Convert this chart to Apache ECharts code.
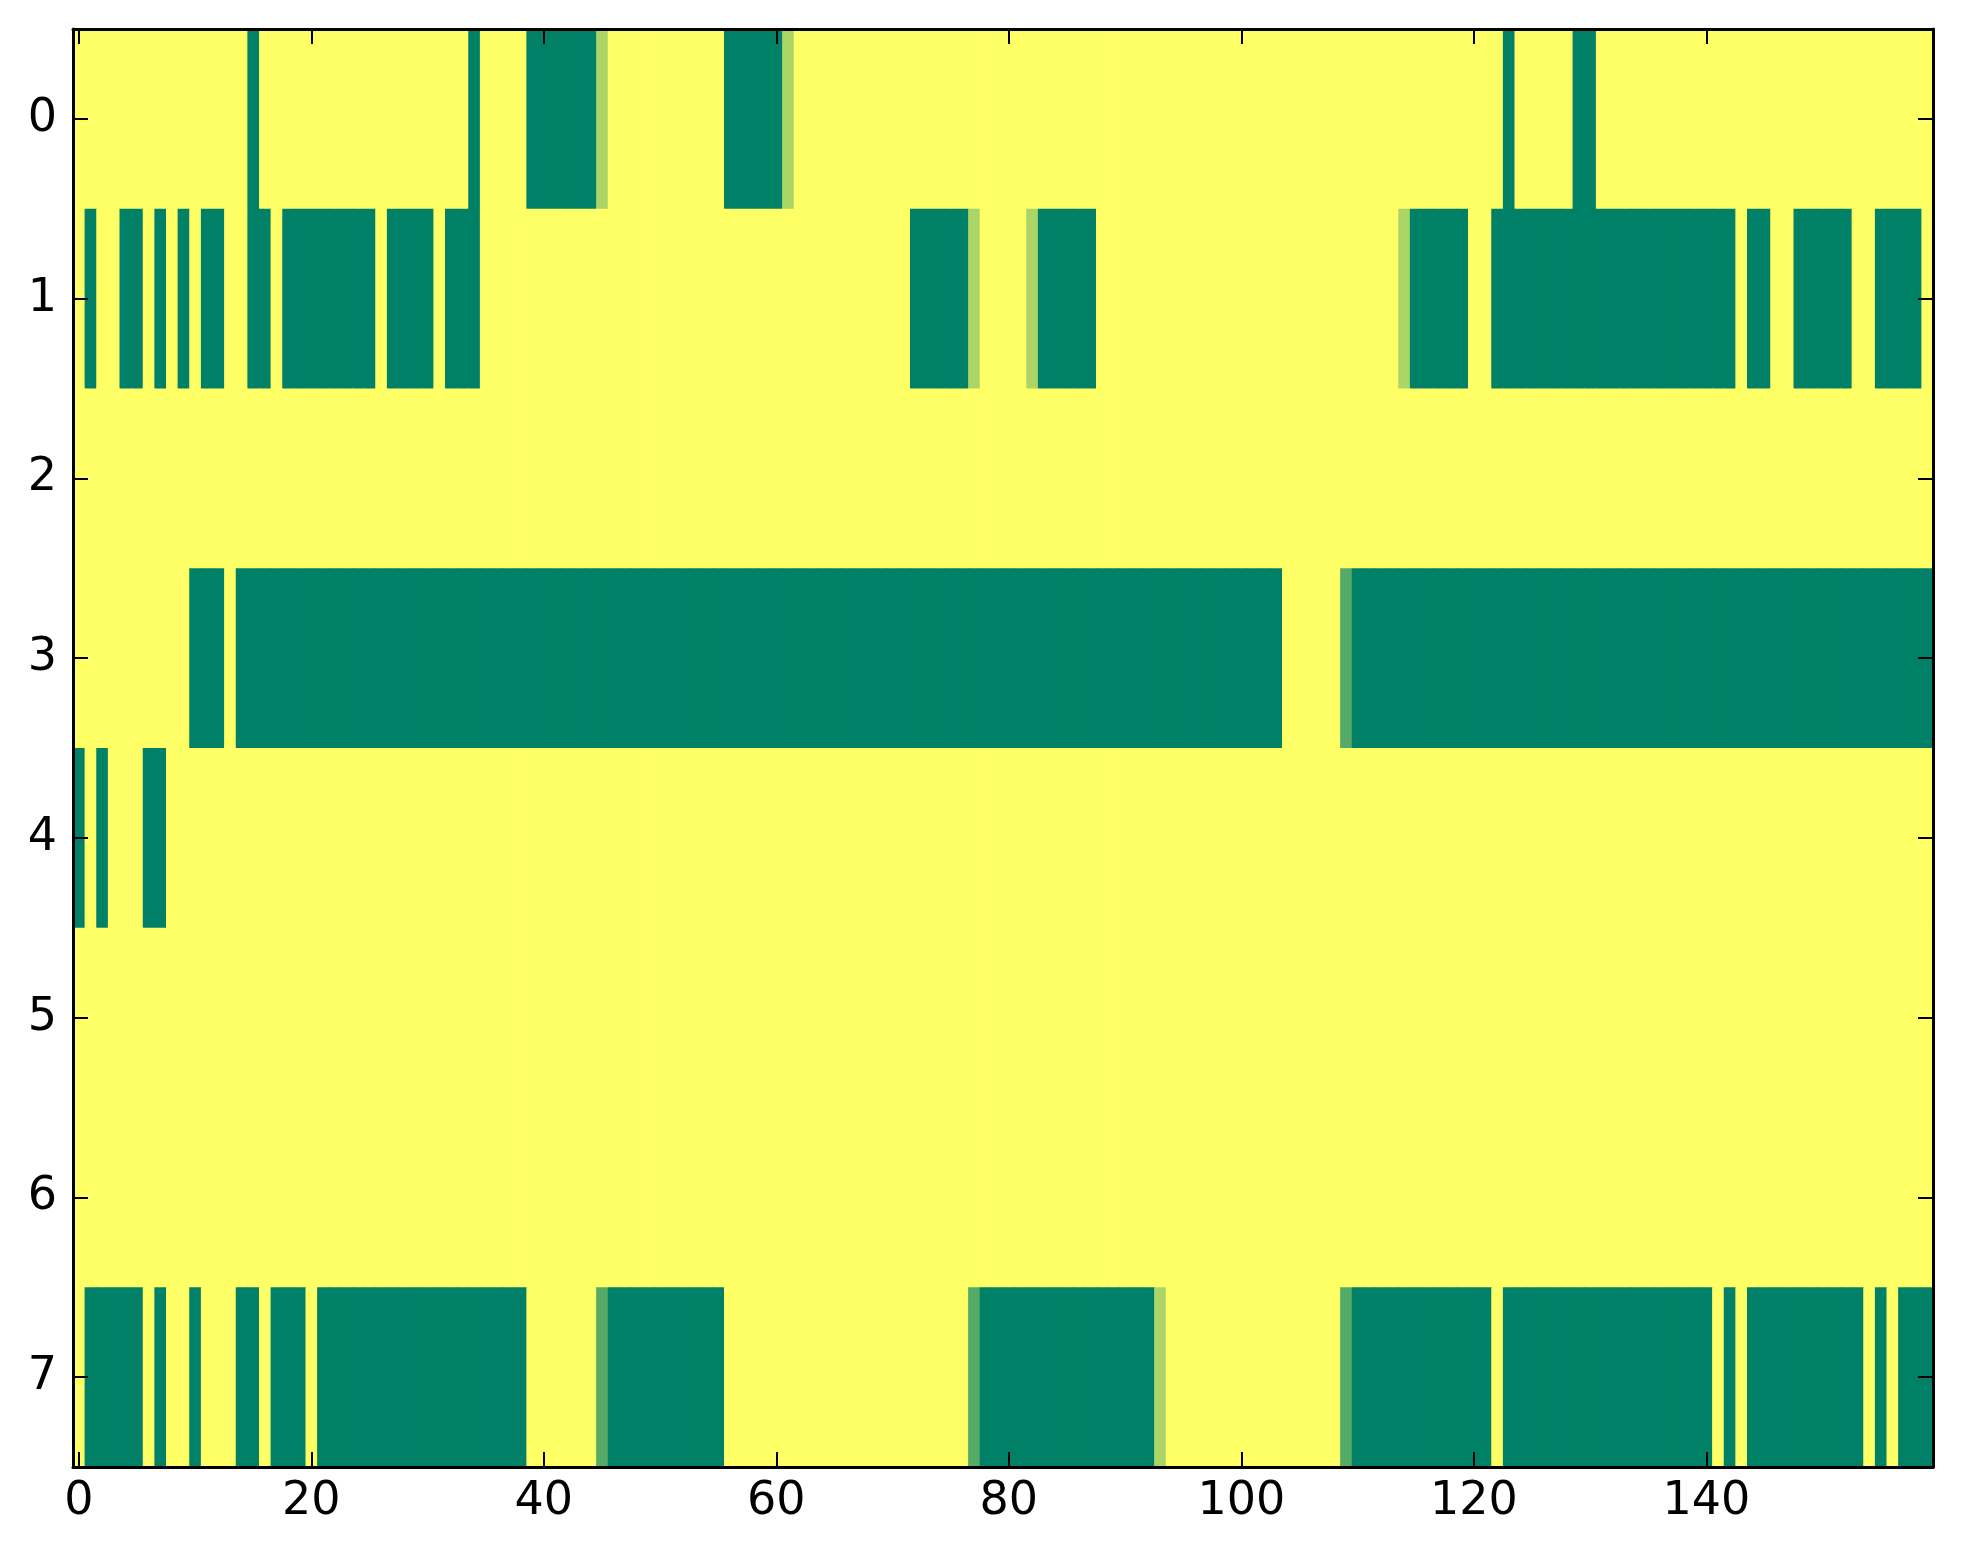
<!DOCTYPE html>
<html>
<head>
<meta charset="utf-8">
<script src="https://cdn.jsdelivr.net/npm/echarts@6/dist/echarts.min.js"></script>
<style>
html,body{margin:0;padding:0;background:#fff;}
#c{width:1963px;height:1564px;}
</style>
</head>
<body>
<div id="c"></div>
<script>
// Column categories 0..159 and row categories 0..7
const xCategories = Array.from({length:160}, (_, i) => String(i));
const yCategories = ['0','1','2','3','4','5','6','7'];
const xTickLabels = ['0','20','40','60','80','100','120','140'];

// Cell values per row (0 = dark green, 1 = yellow)
const row0 = [
 1,1,1,1,1,1,1,1,1,1,1,1,1,1,1,0,1,1,1,1,
 1,1,1,1,1,1,1,1,1,1,1,1,1,1,0,1,1,1,1,0,
 0,0,0,0,0,0.67,1,1,1,1,1,1,1,1,1,1,0,0,0,0,
 0,0.67,1,1,1,1,1,1,1,1,1,1,1,1,1,1,1,1,1,1,
 1,1,1,1,1,1,1,1,1,1,1,1,1,1,1,1,1,1,1,1,
 1,1,1,1,1,1,1,1,1,1,1,1,1,1,1,1,1,1,1,1,
 1,1,1,0,1,1,1,1,1,0,0,1,1,1,1,1,1,1,1,1,
 1,1,1,1,1,1,1,1,1,1,1,1,1,1,1,1,1,1,1,1
];
const row1 = [
 1,0,1,1,0,0,1,0,1,0,1,0,0,1,1,0,0,1,0,0,
 0,0,0,0,0,0,1,0,0,0,0,1,0,0,0,1,1,1,1,1,
 1,1,1,1,1,1,1,1,1,1,1,1,1,1,1,1,1,1,1,1,
 1,1,1,1,1,1,1,1,1,1,1,1,0,0,0,0,0,0.67,1,1,
 1,1,0.67,0,0,0,0,0,1,1,1,1,1,1,1,1,1,1,1,1,
 1,1,1,1,1,1,1,1,1,1,1,1,1,1,0.67,0,0,0,0,0,
 1,1,0,0,0,0,0,0,0,0,0,0,0,0,0,0,0,0,0,0,
 0,0,0,1,0,0,1,1,0,0,0,0,0,1,1,0,0,0,0,1
];
const row2 = [
 1,1,1,1,1,1,1,1,1,1,1,1,1,1,1,1,1,1,1,1,
 1,1,1,1,1,1,1,1,1,1,1,1,1,1,1,1,1,1,1,1,
 1,1,1,1,1,1,1,1,1,1,1,1,1,1,1,1,1,1,1,1,
 1,1,1,1,1,1,1,1,1,1,1,1,1,1,1,1,1,1,1,1,
 1,1,1,1,1,1,1,1,1,1,1,1,1,1,1,1,1,1,1,1,
 1,1,1,1,1,1,1,1,1,1,1,1,1,1,1,1,1,1,1,1,
 1,1,1,1,1,1,1,1,1,1,1,1,1,1,1,1,1,1,1,1,
 1,1,1,1,1,1,1,1,1,1,1,1,1,1,1,1,1,1,1,1
];
const row3 = [
 1,1,1,1,1,1,1,1,1,1,0,0,0,1,0,0,0,0,0,0,
 0,0,0,0,0,0,0,0,0,0,0,0,0,0,0,0,0,0,0,0,
 0,0,0,0,0,0,0,0,0,0,0,0,0,0,0,0,0,0,0,0,
 0,0,0,0,0,0,0,0,0,0,0,0,0,0,0,0,0,0,0,0,
 0,0,0,0,0,0,0,0,0,0,0,0,0,0,0,0,0,0,0,0,
 0,0,0,0,1,1,1,1,1,0.33,0,0,0,0,0,0,0,0,0,0,
 0,0,0,0,0,0,0,0,0,0,0,0,0,0,0,0,0,0,0,0,
 0,0,0,0,0,0,0,0,0,0,0,0,0,0,0,0,0,0,0,0
];
const row4 = [
 0,1,0,1,1,1,0,0,1,1,1,1,1,1,1,1,1,1,1,1,
 1,1,1,1,1,1,1,1,1,1,1,1,1,1,1,1,1,1,1,1,
 1,1,1,1,1,1,1,1,1,1,1,1,1,1,1,1,1,1,1,1,
 1,1,1,1,1,1,1,1,1,1,1,1,1,1,1,1,1,1,1,1,
 1,1,1,1,1,1,1,1,1,1,1,1,1,1,1,1,1,1,1,1,
 1,1,1,1,1,1,1,1,1,1,1,1,1,1,1,1,1,1,1,1,
 1,1,1,1,1,1,1,1,1,1,1,1,1,1,1,1,1,1,1,1,
 1,1,1,1,1,1,1,1,1,1,1,1,1,1,1,1,1,1,1,1
];
const row5 = [
 1,1,1,1,1,1,1,1,1,1,1,1,1,1,1,1,1,1,1,1,
 1,1,1,1,1,1,1,1,1,1,1,1,1,1,1,1,1,1,1,1,
 1,1,1,1,1,1,1,1,1,1,1,1,1,1,1,1,1,1,1,1,
 1,1,1,1,1,1,1,1,1,1,1,1,1,1,1,1,1,1,1,1,
 1,1,1,1,1,1,1,1,1,1,1,1,1,1,1,1,1,1,1,1,
 1,1,1,1,1,1,1,1,1,1,1,1,1,1,1,1,1,1,1,1,
 1,1,1,1,1,1,1,1,1,1,1,1,1,1,1,1,1,1,1,1,
 1,1,1,1,1,1,1,1,1,1,1,1,1,1,1,1,1,1,1,1
];
const row6 = [
 1,1,1,1,1,1,1,1,1,1,1,1,1,1,1,1,1,1,1,1,
 1,1,1,1,1,1,1,1,1,1,1,1,1,1,1,1,1,1,1,1,
 1,1,1,1,1,1,1,1,1,1,1,1,1,1,1,1,1,1,1,1,
 1,1,1,1,1,1,1,1,1,1,1,1,1,1,1,1,1,1,1,1,
 1,1,1,1,1,1,1,1,1,1,1,1,1,1,1,1,1,1,1,1,
 1,1,1,1,1,1,1,1,1,1,1,1,1,1,1,1,1,1,1,1,
 1,1,1,1,1,1,1,1,1,1,1,1,1,1,1,1,1,1,1,1,
 1,1,1,1,1,1,1,1,1,1,1,1,1,1,1,1,1,1,1,1
];
const row7 = [
 1,0,0,0,0,0,1,0,1,1,0,1,1,1,0,0,1,0,0,0,
 1,0,0,0,0,0,0,0,0,0,0,0,0,0,0,0,0,0,0,1,
 1,1,1,1,1,0.33,0,0,0,0,0,0,0,0,0,0,1,1,1,1,
 1,1,1,1,1,1,1,1,1,1,1,1,1,1,1,1,1,0.33,0,0,
 0,0,0,0,0,0,0,0,0,0,0,0,0,0.67,1,1,1,1,1,1,
 1,1,1,1,1,1,1,1,1,0.33,0,0,0,0,0,0,0,0,0,0,
 0,0,1,0,0,0,0,0,0,0,0,0,0,0,0,0,0,0,0,0,
 0,1,0,1,0,0,0,0,0,0,0,0,0,0,1,0,1,0,0,0
];
const rows = [row0,row1,row2,row3,row4,row5,row6,row7];

const cells = [];
rows.forEach((r, y) => r.forEach((v, x) => cells.push([x, y, v])));

const FONT = 'DejaVu Sans';
const labelSet = new Set(xTickLabels);
const xShow = (idx) => labelSet.has(String(idx));
const axisLine = {show:true, onZero:false, lineStyle:{color:'#000', width:3}};
const tick = {show:true, inside:true, length:15, lineStyle:{color:'#000', width:2}};

const chart = echarts.init(document.getElementById('c'), null, {renderer:'canvas'});
chart.setOption({
  backgroundColor:'#fff',
  animation:false,
  grid:{left:73, right:30, top:29, bottom:97, containLabel:false},
  xAxis:[
    {type:'category', data:xCategories, position:'bottom', z:10,
     axisLine:axisLine,
     axisTick:Object.assign({}, tick, {alignWithLabel:true, interval:(i)=>xShow(i)}),
     axisLabel:{interval:(i)=>xShow(i), fontFamily:FONT, fontSize:46, color:'#000', margin:12},
     splitLine:{show:false}},
    {type:'category', data:xCategories, position:'top', z:10,
     axisLine:axisLine,
     axisTick:Object.assign({}, tick, {alignWithLabel:true, interval:(i)=>xShow(i)}),
     axisLabel:{show:false}, splitLine:{show:false}}
  ],
  yAxis:[
    {type:'category', data:yCategories, inverse:true, position:'left', z:10,
     axisLine:axisLine,
     axisTick:Object.assign({}, tick, {alignWithLabel:true, interval:0}),
     axisLabel:{interval:0, fontFamily:FONT, fontSize:46, color:'#000', margin:16},
     splitLine:{show:false}},
    {type:'category', data:yCategories, inverse:true, position:'right', z:10,
     axisLine:axisLine,
     axisTick:Object.assign({}, tick, {alignWithLabel:true, interval:0}),
     axisLabel:{show:false}, splitLine:{show:false}}
  ],
  visualMap:{show:false, type:'continuous', min:0, max:1, dimension:2, seriesIndex:0,
    inRange:{color:['#008066','#ffff66']}},
  series:[{
    type:'custom', xAxisIndex:0, yAxisIndex:0, data:cells, clip:true,
    encode:{x:0, y:1},
    renderItem:function(params, api){
      const p = api.coord([api.value(0), api.value(1)]);
      const s = api.size([1, 1]);
      return {
        type:'rect',
        shape:{x:p[0]-s[0]/2, y:p[1]-s[1]/2, width:s[0]+0.8, height:s[1]+0.8},
        style:{fill:api.visual('color'), stroke:null, lineWidth:0}
      };
    }
  }]
});
</script>
</body>
</html>
